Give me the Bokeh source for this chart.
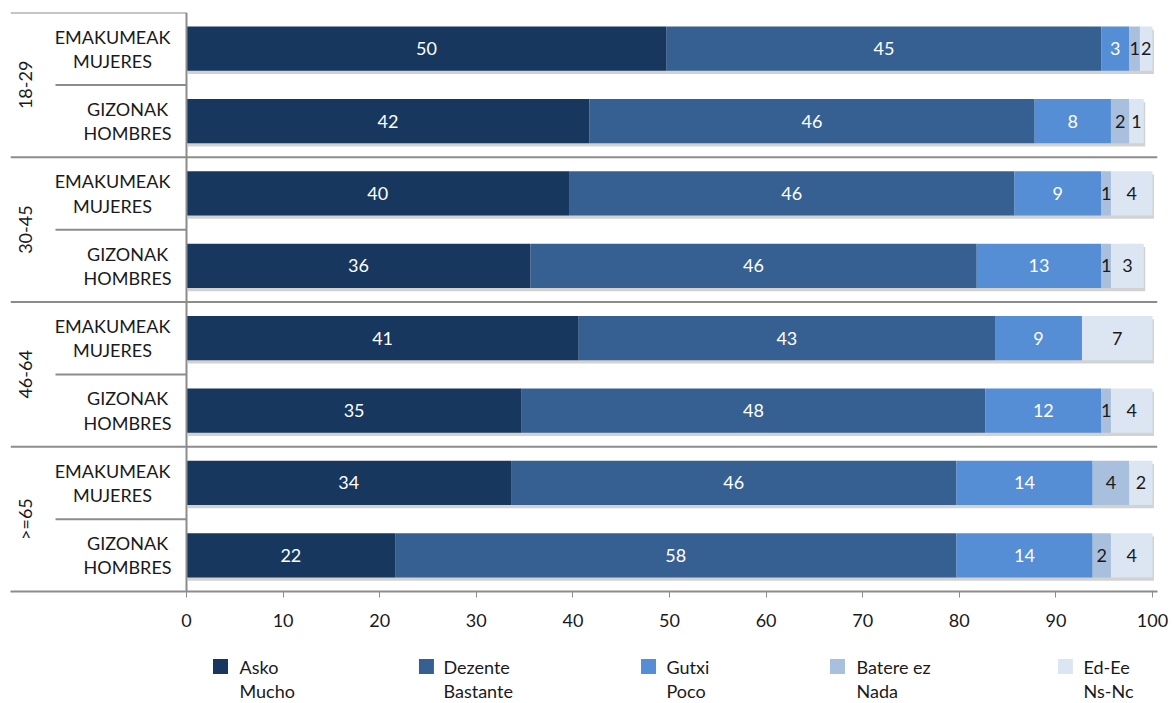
import numpy as np
from bokeh.plotting import figure
from bokeh.layouts import column
from bokeh.models import Range1d, FixedTicker, ColumnDataSource
from bokeh.core.properties import value
from bokeh.embed import file_html
from bokeh.resources import INLINE

# ---------------- data ----------------
age_groups = ["18-29", "30-45", "46-64", ">=65"]
sex_labels = ["EMAKUMEAK\nMUJERES", "GIZONAK\nHOMBRES"]
series_eu = ["Asko", "Dezente", "Gutxi", "Batere ez", "Ed-Ee"]
series_es = ["Mucho", "Bastante", "Poco", "Nada", "Ns-Nc"]

# rows: 18-29 W, 18-29 M, 30-45 W, 30-45 M, 46-64 W, 46-64 M, >=65 W, >=65 M
asko    = [49.7, 41.7, 39.6, 35.6, 40.6, 34.7, 33.6, 21.6]
dezente = [45.0, 46.1, 46.1, 46.2, 43.1, 48.0, 46.1, 58.1]
gutxi   = [2.9, 7.9, 9.0, 12.9, 9.0, 12.0, 14.1, 14.1]
batere  = [1.1, 1.9, 1.0, 1.0, 0.0, 1.0, 3.8, 1.9]
edee    = [1.3, 1.5, 4.3, 3.4, 7.3, 4.3, 2.4, 4.3]

asko_lbl    = ["50", "42", "40", "36", "41", "35", "34", "22"]
dezente_lbl = ["45", "46", "46", "46", "43", "48", "46", "58"]
gutxi_lbl   = ["3", "8", "9", "13", "9", "12", "14", "14"]
batere_lbl  = ["1", "2", "1", "1", "", "1", "4", "2"]
edee_lbl    = ["2", "1", "4", "3", "7", "4", "2", "4"]

x_ticks = [0, 10, 20, 30, 40, 50, 60, 70, 80, 90, 100]

# ---------------- styling ----------------
colors = ["#17375E", "#376092", "#558ED5", "#A9BFDE", "#DCE6F2"]
label_colors = ["white", "white", "white", "#1a1a1a", "#1a1a1a"]
FONT = "Lato"
FS = "18px"
GREY = "#8c8c8c"
TXT = "#1a1a1a"

series = [asko, dezente, gutxi, batere, edee]
labels = [asko_lbl, dezente_lbl, gutxi_lbl, batere_lbl, edee_lbl]

n_rows = len(asko)
row_y = np.array([n_rows - 0.5 - i for i in range(n_rows)])
BAR_H = 0.61

X0, X1 = -18.22, 100.52
xr = Range1d(X0, X1)
p = figure(frame_width=1147, frame_height=579,
           x_range=xr, y_range=Range1d(0, n_rows),
           output_backend="svg", toolbar_location=None,
           min_border_left=10, min_border_right=11, min_border_top=12, min_border_bottom=40)
p.yaxis.visible = False
p.xgrid.visible = False
p.ygrid.visible = False
p.outline_line_color = None

vals = np.array(series)
cum = np.vstack([np.zeros(n_rows), np.cumsum(vals, axis=0)])
totals = cum[-1]

# drop shadow
p.hbar(y=row_y - 0.045, left=0.15, right=totals + 0.15, height=BAR_H,
       fill_color="#7f7f7f", fill_alpha=0.35, line_color=None)

for k in range(len(series)):
    src = ColumnDataSource(dict(y=row_y, left=cum[k], right=cum[k + 1],
                                xm=(cum[k] + cum[k + 1]) / 2, lbl=labels[k]))
    p.hbar(y="y", left="left", right="right", height=BAR_H, source=src,
           fill_color=colors[k], line_color=None)
    p.text(x="xm", y="y", text="lbl", source=src, text_align="center",
           text_baseline="middle", text_color=label_colors[k],
           text_font=value(FONT), text_font_size=FS)

# separators
grp_y = [6, 4, 2]
p.segment(x0=[X0] * 3, x1=[X1] * 3, y0=grp_y, y1=grp_y, line_color=GREY, line_width=2)
p.segment(x0=[X0], x1=[0], y0=[n_rows], y1=[n_rows], line_color=GREY, line_width=2)
sub_y = [7, 5, 3, 1]
p.segment(x0=[-13.56] * 4, x1=[0] * 4, y0=sub_y, y1=sub_y, line_color=GREY, line_width=2)
p.segment(x0=[0], x1=[0], y0=[0], y1=[n_rows], line_color=GREY, line_width=2)

# category labels
grp_center = [7, 5, 3, 1]
p.text(x=[-16.67] * 4, y=grp_center, text=age_groups, angle=np.pi / 2,
       text_align="center", text_baseline="middle", text_color=TXT,
       text_font=value(FONT), text_font_size=FS)
sex_x = [-7.66, -6.1]
row_text = [sex_labels[i % 2] for i in range(n_rows)]
row_x = [sex_x[i % 2] for i in range(n_rows)]
p.text(x=row_x, y=row_y, text=row_text, text_align="center", text_baseline="middle",
       text_color=TXT, text_font=value(FONT), text_font_size=FS, text_line_height=1.1)

# x axis
ax = p.xaxis[0]
ax.ticker = FixedTicker(ticks=x_ticks)
ax.axis_line_color = GREY
ax.axis_line_width = 2
ax.major_tick_line_color = GREY
ax.major_tick_line_width = 1
ax.major_tick_in = 0
ax.major_tick_out = 6
ax.minor_tick_line_color = None
ax.major_label_text_font = FONT
ax.major_label_text_font_size = FS
ax.major_label_text_color = TXT
ax.major_label_standoff = 16

# ---------------- legend (separate strip sharing the x scale) ----------------
LEG_H = 71
leg = figure(frame_width=1147, frame_height=LEG_H, x_range=xr, y_range=Range1d(0, LEG_H),
             output_backend="svg", toolbar_location=None,
             min_border_left=10, min_border_right=11, min_border_top=0, min_border_bottom=0)
leg.axis.visible = False
leg.grid.visible = False
leg.outline_line_color = None

sq_x = [3.52, 24.84, 47.83, 67.39, 90.99]
tx_x = [5.49, 26.60, 49.69, 69.36, 92.86]
line1_y, line2_y = 36, 12
leg.rect(x=sq_x, y=[line1_y] * 5, width=15, height=15, width_units="screen",
         height_units="screen", fill_color=colors, line_color=None)
leg.text(x=tx_x, y=[line1_y] * 5, text=series_eu, text_align="left", text_baseline="middle",
         text_color=TXT, text_font=value(FONT), text_font_size=FS)
leg.text(x=tx_x, y=[line2_y] * 5, text=series_es, text_align="left", text_baseline="middle",
         text_color=TXT, text_font=value(FONT), text_font_size=FS)

layout = column(p, leg, spacing=0)
open("out.html", "w").write(file_html(layout, INLINE))
